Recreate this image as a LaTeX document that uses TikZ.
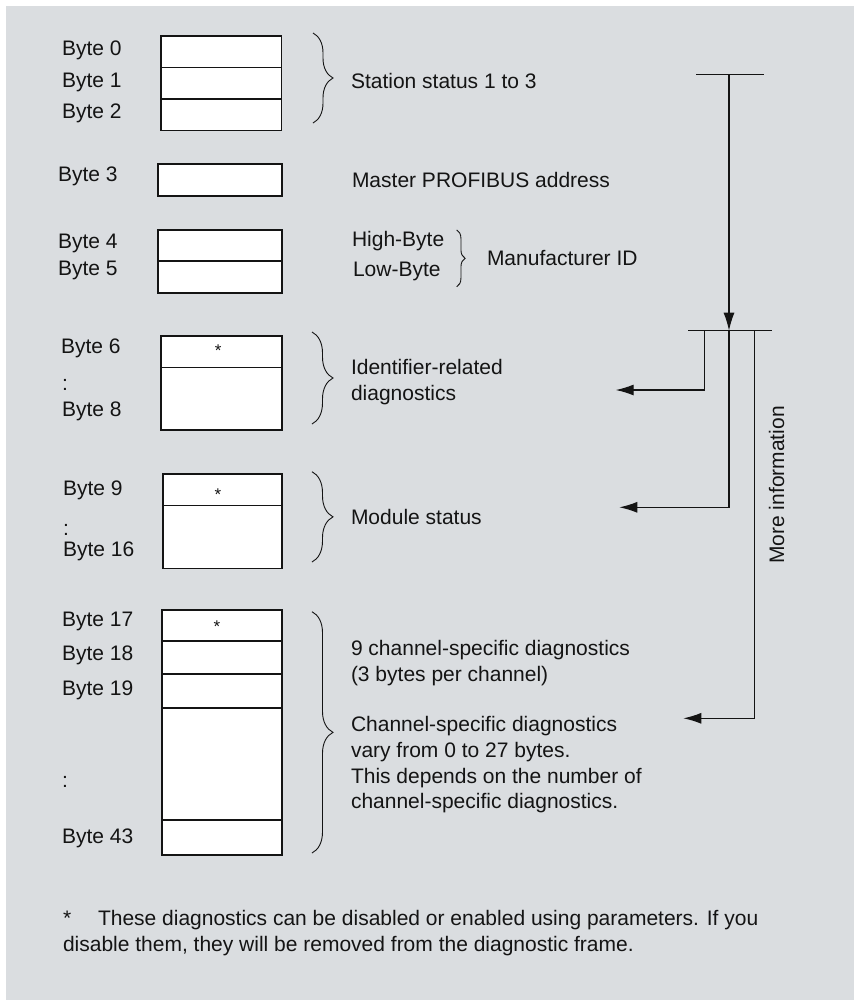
\documentclass[tikz,border=0pt]{standalone}
\usepackage{fontspec}
\setmainfont{Liberation Sans}
\usetikzlibrary{arrows.meta,decorations.pathreplacing}
\definecolor{bgc}{RGB}{218,221,224}
\definecolor{ink}{RGB}{20,20,20}
\begin{document}
\begin{tikzpicture}[x=1pt,y=-1pt,
  every node/.style={inner sep=0pt, outer sep=0pt},
  txt/.style={anchor=base west, font=\fontsize{21}{25}\selectfont, text=ink},
  cell/.style={draw=ink, fill=white, line width=1.2pt, rectangle},
  star/.style={font=\fontsize{17}{17}\selectfont, text=ink},
  brc/.style={draw=ink, line width=0.9pt, decorate, decoration={brace, amplitude=#1}},
  conn/.style={draw=ink, line width=1.2pt},
  arr/.style={conn, -{Latex[length=18pt,width=11pt]}}
]
\fill[white] (0,0) rectangle (861,1005);
\useasboundingbox (0,0) rectangle (861,1005);
\fill[bgc] (6,6) rectangle (854,1000);

% ---- boxes
\node[cell, minimum width=120.5pt, minimum height=31.7pt] (b0) at (221.25,51.85) {};
\node[cell, minimum width=120.5pt, minimum height=31.3pt] (b1) at (221.25,83.35) {};
\node[cell, minimum width=120.5pt, minimum height=31.3pt] (b2) at (221.25,114.65) {};

\node[cell, minimum width=124pt, minimum height=32pt] (b3) at (220,180) {};

\node[cell, minimum width=124pt, minimum height=31pt] (b4) at (220,245.5) {};
\node[cell, minimum width=124pt, minimum height=32pt] (b5) at (220,277) {};

\node[cell, minimum width=121pt, minimum height=31.3pt] (b6) at (221.5,351.65) {};
\node[cell, minimum width=121pt, minimum height=62.7pt] (b6r) at (221.5,398.65) {};

\node[cell, minimum width=119pt, minimum height=31.7pt] (b9) at (222.5,489.85) {};
\node[cell, minimum width=119pt, minimum height=62.6pt] (b9r) at (222.5,537) {};

\node[cell, minimum width=120pt, minimum height=31pt] (b17) at (222,625.5) {};
\node[cell, minimum width=120pt, minimum height=33pt] (b18) at (222,657.5) {};
\node[cell, minimum width=120pt, minimum height=34pt] (b19) at (222,691) {};
\node[cell, minimum width=120pt, minimum height=112pt] (bmid) at (222,764) {};
\node[cell, minimum width=120pt, minimum height=35pt] (b43) at (222,837.5) {};

\node[star] (s6) at (218.3,351) {*};
\node[star] (s9) at (218,495) {*};
\node[star] (s17) at (217,626.5) {*};

% ---- byte labels
\node[txt] (l0) at (62,55.7) {Byte 0};
\node[txt] (l1) at (62,87.3) {Byte 1};
\node[txt] (l2) at (62,118.3) {Byte 2};
\node[txt] (l3) at (58,181.7) {Byte 3};
\node[txt] (l4) at (58,248) {Byte 4};
\node[txt] (l5) at (58,275) {Byte 5};
\node[txt] (l6) at (61,353) {Byte 6};
\node[txt] (l7) at (62,390) {:};
\node[txt] (l8) at (62,416.7) {Byte 8};
\node[txt] (l9) at (63,495) {Byte 9};
\node[txt] (l10) at (63,535) {:};
\node[txt] (l16) at (63,556.7) {Byte 16};
\node[txt] (l17) at (62,626.7) {Byte 17};
\node[txt] (l18) at (62,660) {Byte 18};
\node[txt] (l19) at (62,695) {Byte 19};
\node[txt] (l20) at (62,787) {:};
\node[txt] (l43) at (62,843.3) {Byte 43};

% ---- braces
\draw[brc=20] (313,33) -- (313,123);
\draw[brc=8.5] (456.7,230) -- (456.7,286.7);
\draw[brc=21] (312,332) -- (312,424);
\draw[brc=21] (312,471.7) -- (312,562);
\draw[brc=21] (312,611.7) -- (312,853);

% ---- descriptions
\node[txt] (t0) at (351,88) {Station status 1 to 3};
\node[txt] (t3) at (352,187) {Master PROFIBUS address};
\node[txt] (t4) at (352,246.7) {High-Byte};
\node[txt] (t5) at (353,276.7) {Low-Byte};
\node[txt] (tm) at (487,265) {Manufacturer ID};
\node[txt] (t6a) at (351,374) {Identifier-related};
\node[txt] (t6b) at (351,400) {diagnostics};
\node[txt] (t9) at (351,524) {Module status};
\node[txt] (t17a) at (351,655) {9 channel-specific diagnostics};
\node[txt] (t17b) at (351,681) {(3 bytes per channel)};
\node[txt] (t17c) at (351,731) {Channel-specific diagnostics};
\node[txt] (t17d) at (351,757) {vary from 0 to 27 bytes.};
\node[txt] (t17e) at (351,783) {This depends on the number of};
\node[txt] (t17f) at (351,808) {channel-specific diagnostics.};

% ---- right-hand connectors
\coordinate (tbL) at (696,74.3);
\coordinate (tbR) at (764,74.3);
\coordinate (tbM) at (729,74.3);
\coordinate (lbL) at (688.3,330.7);
\coordinate (lbR) at (771.7,330.7);
\coordinate (lbM) at (729,330.7);
\coordinate (lbA) at (704.3,330.7);
\coordinate (lbC) at (754.3,330.7);
\coordinate (e1) at (615.7,390);
\coordinate (e2) at (619.3,507.3);
\coordinate (e3) at (683.3,718.3);

\draw[conn] (tbL) -- (tbR);
\draw[conn] (lbL) -- (lbR);
\draw[arr] (tbM) -- (lbM);
\draw[arr] (lbA) |- (e1);
\draw[arr] (lbM) |- (e2);
\draw[arr] (lbC) |- (e3);

\node[font=\fontsize{21}{25}\selectfont, text=ink, rotate=90] (more) at (776.7,485) {More information};

% ---- footnote
\node[txt] (fs) at (63,925) {*};
\node[txt] (f1) at (98,925) {These diagnostics can be disabled or enabled using parameters. If you};
\node[txt] (f2) at (63,951) {disable them, they will be removed from the diagnostic frame.};
\end{tikzpicture}
\end{document}
